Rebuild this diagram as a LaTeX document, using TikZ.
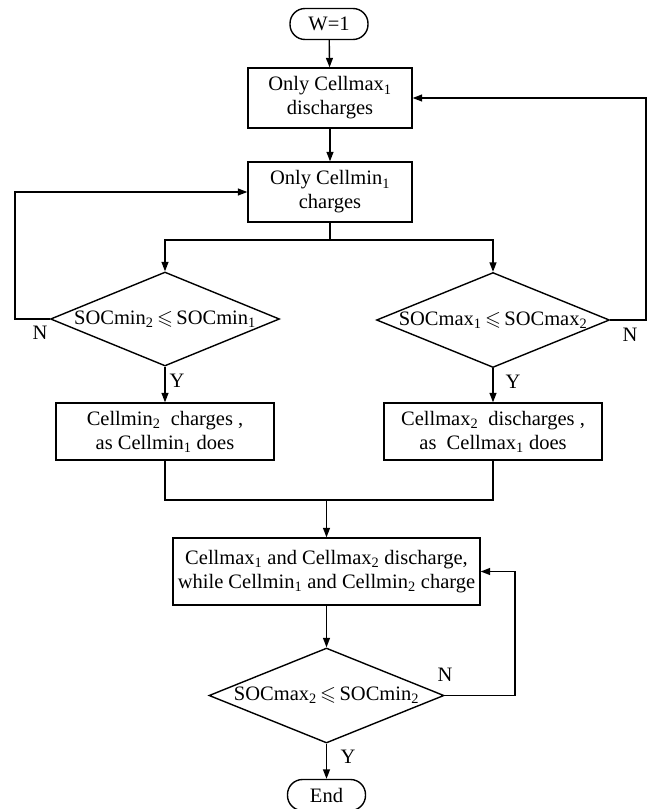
\documentclass[tikz,border=0pt]{standalone}
\usepackage{fontspec}
\usepackage{amssymb}
\setmainfont{Liberation Serif}
\usetikzlibrary{arrows.meta,shapes.geometric}
\tikzset{
  every picture/.style={line width=1.4pt},
  txt/.style={font=\fontsize{20.5}{24}\selectfont},
  proc/.style={draw, rectangle, inner sep=0pt, align=center, txt},
  term/.style={draw, rectangle, rounded corners=15pt, inner sep=0pt, minimum width=78pt, minimum height=31pt, txt},
  dec/.style={draw, diamond, inner sep=0pt, txt},
  lab/.style={txt, inner sep=0pt},
  arr/.style={-{Triangle[length=9.5pt,width=7pt]}}
}
\newcommand{\sbs}[1]{\textsubscript{#1}}
\newcommand{\myle}{\,$\leqslant$\,}
\begin{document}
\begin{tikzpicture}[x=1pt,y=-1pt]
\useasboundingbox (0,0) rectangle (656,809);
\node[term] (w) at (329,24) {W=1};
\node[proc, minimum width=164pt, minimum height=60pt] (b1) at (330,98) {Only Cellmax\sbs{1}\\discharges};
\node[proc, minimum width=164pt, minimum height=60pt] (b2) at (330,192) {Only Cellmin\sbs{1}\\charges};
\node[dec, minimum width=229pt, minimum height=94pt] (d1) at (165,319) {\makebox[0pt]{SOCmin\sbs{2}\myle SOCmin\sbs{1}}};
\node[dec, minimum width=233pt, minimum height=95pt] (d2) at (493,320) {\makebox[0pt]{SOCmax\sbs{1}\myle SOCmax\sbs{2}}};
\node[proc, minimum width=218pt, minimum height=57pt] (b3) at (165,431.5) {Cellmin\sbs{2}\ \ charges ,\\as Cellmin\sbs{1} does};
\node[proc, minimum width=218pt, minimum height=57pt] (b4) at (493,431.5) {Cellmax\sbs{2}\ \ discharges ,\\as\ \ Cellmax\sbs{1} does};
\node[proc, minimum width=307pt, minimum height=67pt] (b5) at (326.5,571.5) {Cellmax\sbs{1} and Cellmax\sbs{2} discharge,\\while Cellmin\sbs{1} and Cellmin\sbs{2} charge};
\node[dec, minimum width=235pt, minimum height=95pt] (d3) at (326.5,695.5) {\makebox[0pt]{SOCmax\sbs{2}\myle SOCmin\sbs{2}}};
\node[term] (e) at (326.5,795) {End};
\coordinate (j1) at (330,240);
\coordinate (l1) at (15,319);
\coordinate (r1) at (646,320);
\coordinate (j2) at (326.5,500);
\coordinate (r2) at (515,695.5);
\node[lab] (n1) at (40,333) {N};
\node[lab] (n2) at (630,335) {N};
\node[lab] (y1) at (177,381) {Y};
\node[lab] (y2) at (513,382) {Y};
\node[lab] (n3) at (445,675) {N};
\node[lab] (y3) at (348,757) {Y};
\draw[arr] (w) -- (b1);
\draw[arr] (b1) -- (b2);
\draw (b2.south) -- (j1);
\draw[arr] (j1) -| (d1.north);
\draw[arr] (j1) -| (d2.north);
\draw[arr] (d1.west) -- (l1) |- (b2.west);
\draw[arr] (d2.east) -- (r1) |- (b1.east);
\draw[arr] (d1.south) -- (b3.north);
\draw[arr] (d2.south) -- (b4.north);
\draw (b3.south) |- (j2);
\draw (b4.south) |- (j2);
\draw[arr] (j2) -- (b5.north);
\draw[arr] (b5) -- (d3);
\draw[arr] (d3.east) -- (r2) |- (b5.east);
\draw[arr] (d3) -- (e);
\end{tikzpicture}
\end{document}
